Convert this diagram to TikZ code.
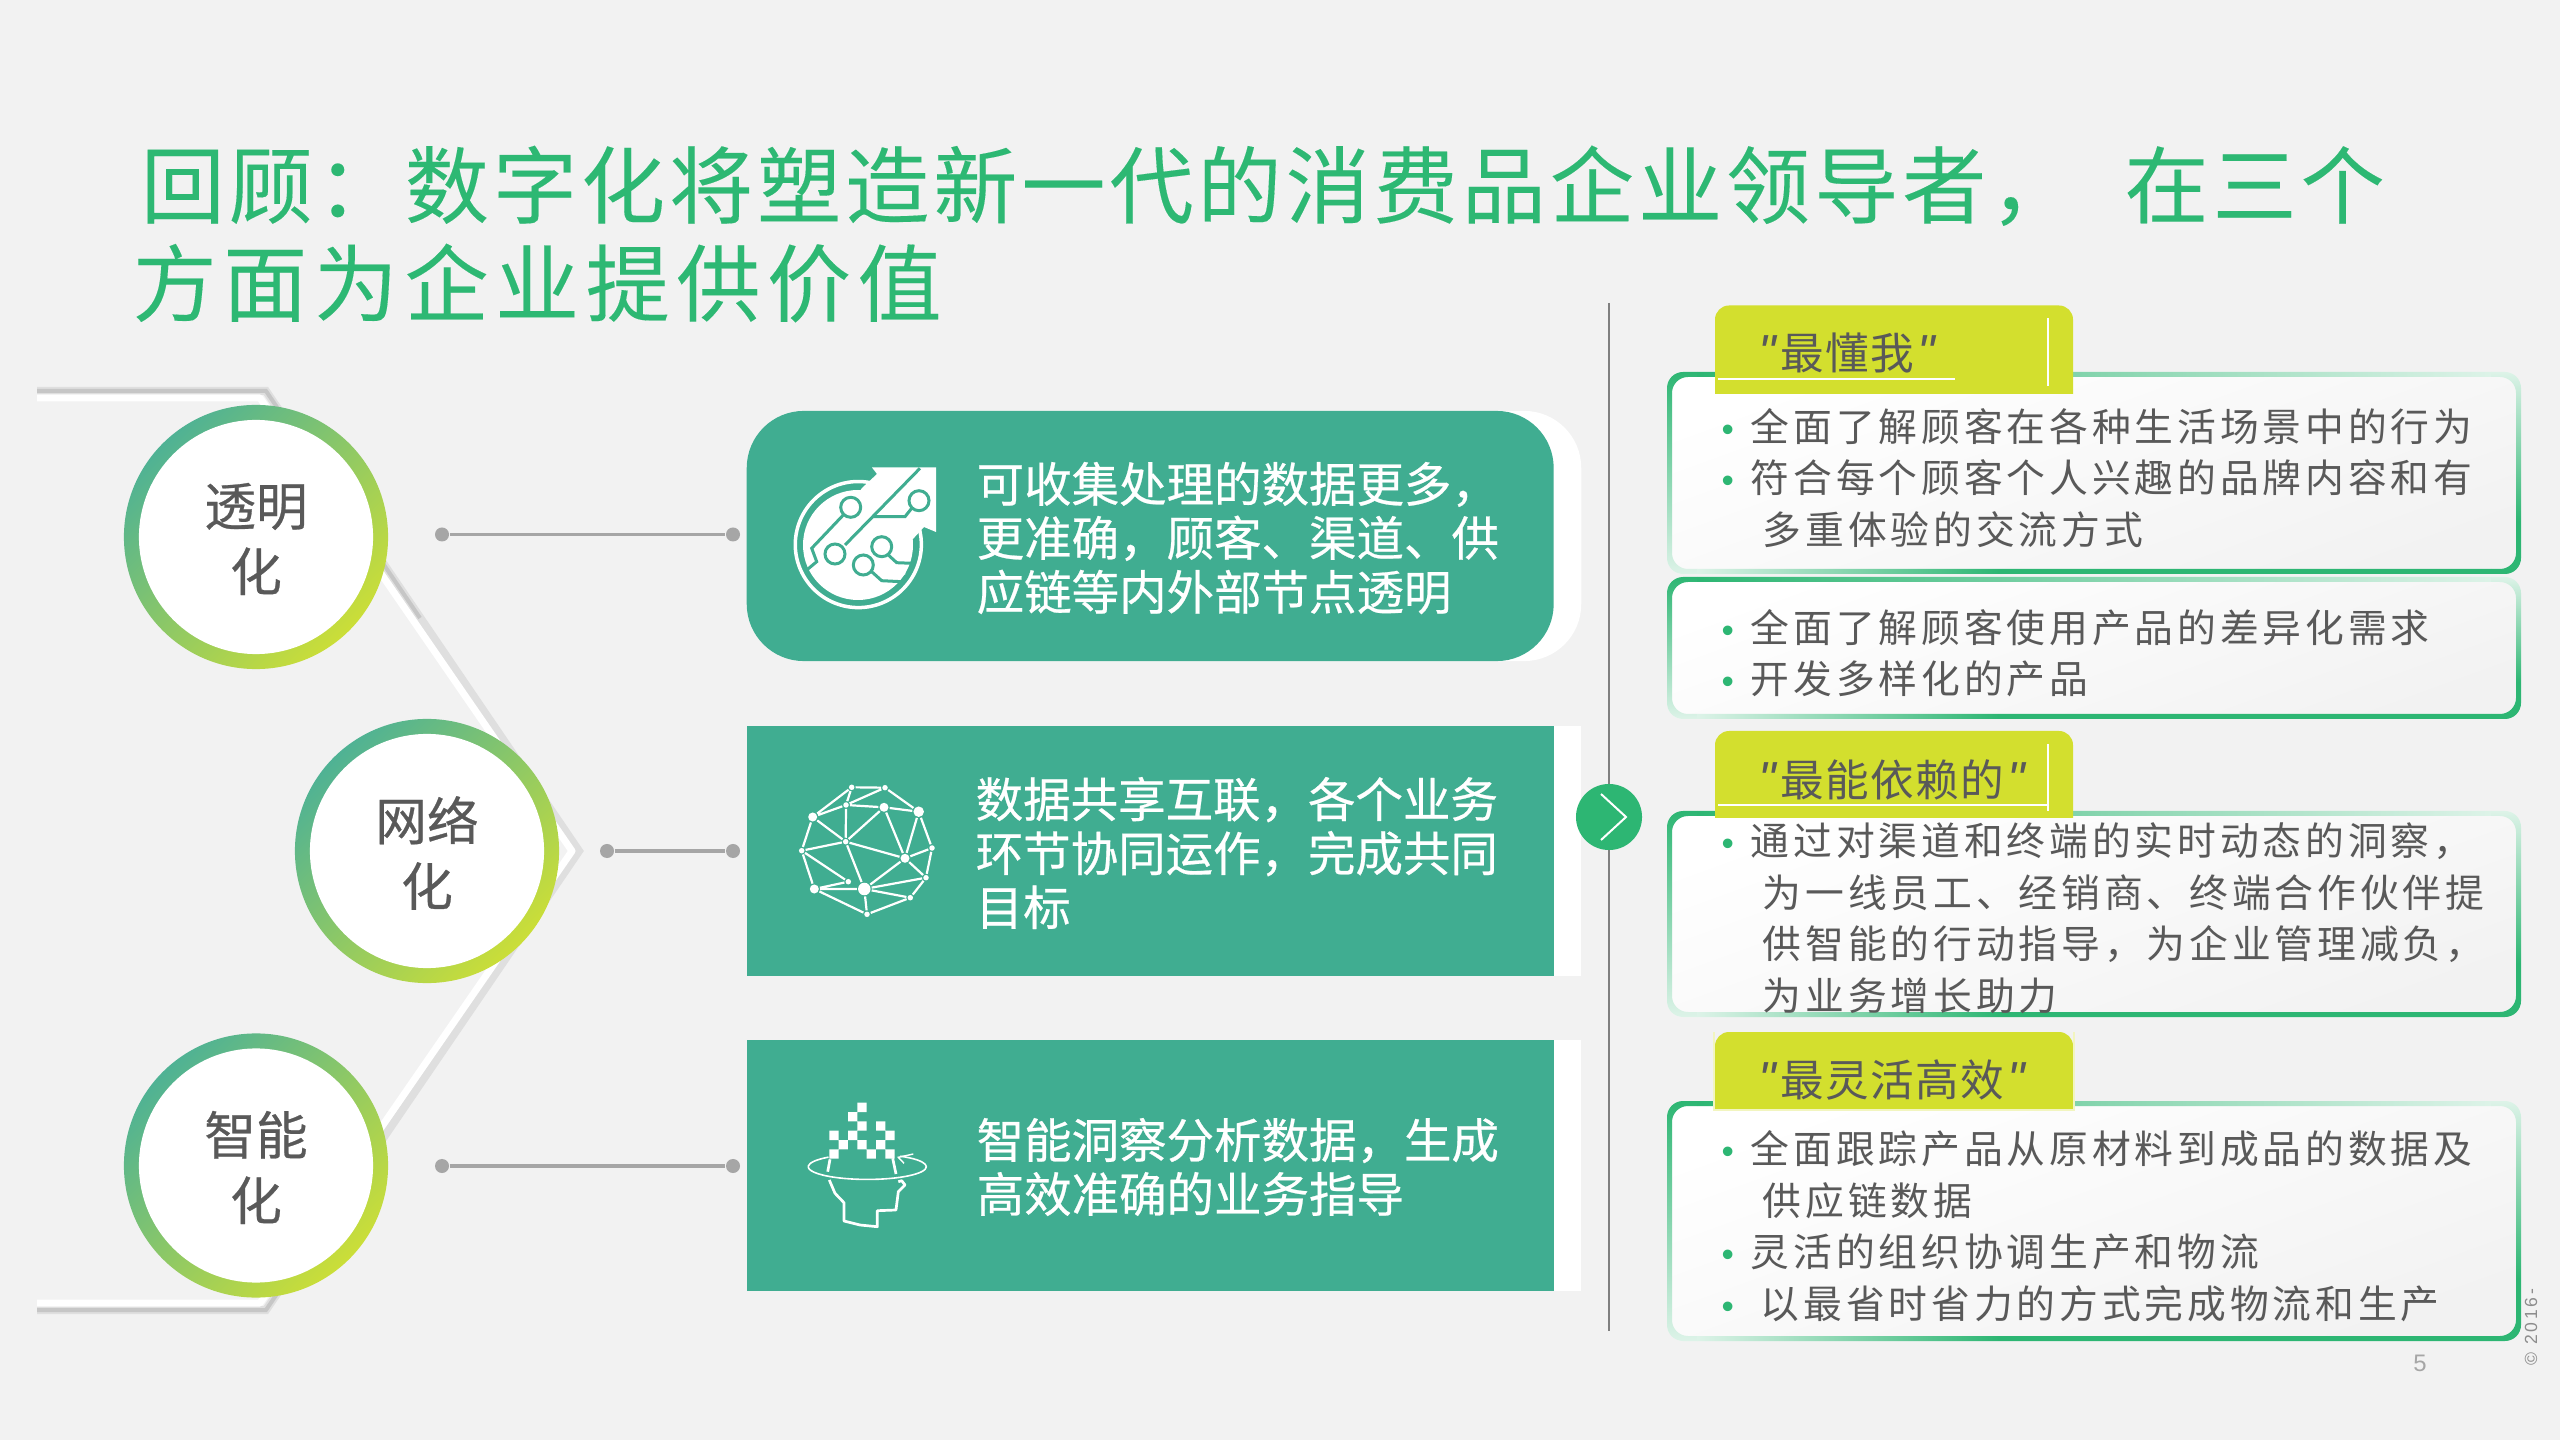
\documentclass[tikz,border=0pt]{standalone}
\usepackage{fontspec}
\setmainfont{Noto Sans CJK SC}
\newfontfamily\widecjk[LetterSpace=10]{Noto Sans CJK SC}
\newfontfamily\titleone[LetterSpace=4.8,FakeBold=0.15]{Noto Sans CJK SC}
\newfontfamily\titletwo[LetterSpace=7.8,FakeBold=0.15]{Noto Sans CJK SC}
\newfontfamily\tagcjk[LetterSpace=3]{Noto Sans CJK SC}
\newfontfamily\heavycjk[FakeBold=0.5]{Noto Sans CJK SC}
\newfontfamily\latinface{Liberation Sans}
\newfontfamily\smallprint[LetterSpace=16]{Liberation Sans}
\definecolor{pagebg}{HTML}{F2F2F2}
\definecolor{titlegreen}{HTML}{2DB873}
\definecolor{bandgreen}{HTML}{40AD91}
\definecolor{edgegreen}{HTML}{2DB673}
\definecolor{edgepale}{HTML}{DDF3E8}
\definecolor{limetag}{HTML}{D3DF2E}
\definecolor{ringteal}{HTML}{4FB294}
\definecolor{ringlime}{HTML}{CBDE38}
\definecolor{inkgray}{HTML}{595959}
\definecolor{linkgray}{HTML}{A6A6A6}
\pgfdeclarehorizontalshading{lowerfade}{100bp}{
    color(0bp)=(edgepale); color(25bp)=(edgepale); color(44bp)=(edgegreen); color(100bp)=(edgegreen)}
\pgfdeclareverticalshading{sidefade}{100bp}{
    color(0bp)=(edgegreen); color(38bp)=(edgegreen); color(75bp)=(edgepale); color(100bp)=(edgepale)}
\newcommand{\dotmark}{\makebox[0.27cm][l]{\hspace*{-0.02cm}\textcolor{edgegreen}{\latinface\fontsize{10pt}{0pt}\selectfont •}}}
\newcommand{\quotemark}{{\latinface\itshape\fontsize{14pt}{0pt}\selectfont "}}
\newcommand{\softbox}[4]{
    \shade[top color=white, bottom color=pagebg, shading angle=20, rounded corners=.16cm] (#1,#2) rectangle (#3,#4);
    \begin{scope}[even odd rule]
    \clip[rounded corners=.16cm] (#1,#2) rectangle (#3,#4) (#1+5,#2+5) rectangle (#3-5,#4-5);
    \shade[top color=edgegreen, bottom color=edgepale] (#1,#2) rectangle (#1+30,#4);
    \shade[shading=sidefade] (#3-30,#2) rectangle (#3,#4);
    \shade[left color=edgegreen, right color=edgepale] (#1+30,#2) rectangle (#3-30,#2+30);
    \shade[shading=lowerfade] (#1+30,#4-30) rectangle (#3-30,#4);
    \end{scope}
}
\begin{document}
\begin{tikzpicture}[
    x=0.01cm, y=-0.01cm,
    ringdisc/.style={circle, minimum size=2.64cm, inner sep=0pt, top color=ringteal, bottom color=ringlime, shading angle=45},
    ringcore/.style={circle, minimum size=2.34cm, inner sep=0pt, fill=white},
    ringtext/.style={inner sep=0pt, text=inkgray, align=center, yshift=-0.02cm,
                     font=\heavycjk\fontsize{14.7pt}{18.6pt}\selectfont},
    bandback/.style={rectangle, fill=white, minimum width=8.34cm, minimum height=2.5cm, inner sep=0pt},
    bandbox/.style={rectangle, fill=bandgreen, minimum width=8.065cm, minimum height=2.5cm, inner sep=0pt},
    bandtext/.style={anchor=west, inner sep=0pt, text=white, align=left,
                     font=\heavycjk\fontsize{13.5pt}{15.36pt}\selectfont},
    listtext/.style={anchor=west, inner sep=0pt, text=inkgray, align=left,
                     font=\widecjk\fontsize{11.03pt}{14.65pt}\selectfont},
    tagtext/.style={anchor=west, inner sep=0pt, text=inkgray, font=\tagcjk\fontsize{12.4pt}{14pt}\selectfont},
    tagfill/.style={fill=limetag},
    tagrule/.style={white, line width=0.02cm},
    linkdot/.style={circle, fill=linkgray, minimum size=0.14cm, inner sep=0pt},
    link/.style={linkgray, line width=0.035cm},
    netbig/.style={circle, fill=white, minimum size=0.105cm, inner sep=0pt, outer sep=0.012cm},
    netmid/.style={circle, fill=white, minimum size=0.09cm, inner sep=0pt, outer sep=0.012cm},
    netsmall/.style={circle, fill=white, minimum size=0.055cm, inner sep=0pt, outer sep=0.012cm},
    netline/.style={white, line width=0.022cm},
    chip/.style={circle, fill=white, draw=bandgreen, line width=0.03cm, minimum size=0.2cm, inner sep=0pt},
    trace/.style={bandgreen, line width=0.03cm},
    headline/.style={white, line width=0.027cm, line join=round}
]
\fill[pagebg] (0,0) rectangle (2560,1440);

% title
\node[anchor=west, inner sep=0pt, text=titlegreen, align=left, font=\fontsize{23.9pt}{27.9pt}\selectfont] (title) at (132,234)
    {\hspace*{0.08cm}{\titleone 回顾：数字化将塑造新一代的消费品企业领导者，\hspace{0.50cm}在三个}\\{\titletwo 方面为企业提供价值}};

% backing chevron
\draw[gray!25, line width=0.08cm, line join=miter] (37,391) -- (266,391) -- (579,851) -- (266,1310) -- (37,1310);
\draw[gray!45, line width=0.04cm] (37,391) -- (266,391) -- (420,618);
\draw[gray!45, line width=0.04cm] (37,1310) -- (266,1310) -- (300,1260);
\draw[white, line width=0.07cm, line join=round] (37,398) -- (260,398) -- (572,851) -- (260,1303) -- (37,1303);

% rings
\node[ringdisc] (disc1) at (256,537) {};
\node[ringdisc] (disc2) at (427,851) {};
\node[ringdisc] (disc3) at (256,1165.5) {};
\node[ringcore] (ring1) at (disc1) {};
\node[ringcore] (ring2) at (disc2) {};
\node[ringcore] (ring3) at (disc3) {};
\node[ringtext] (word1) at (ring1) {透明\\化};
\node[ringtext] (word2) at (ring2) {网络\\化};
\node[ringtext] (word3) at (ring3) {智能\\化};

% links
\node[linkdot] (link1a) at (442,534.5) {};
\node[linkdot] (link1b) at (733,534.5) {};
\node[linkdot] (link2a) at (607,851) {};
\node[linkdot] (link2b) at (733,851) {};
\node[linkdot] (link3a) at (442,1166) {};
\node[linkdot] (link3b) at (733,1166) {};
\draw[link] (link1a) -- (link1b);
\draw[link] (link2a) -- (link2b);
\draw[link] (link3a) -- (link3b);

% bands
\node[bandback, rounded corners=.57cm] (back1) at (1164,536) {};
\node[bandback] (back2) at (1164,851) {};
\node[bandback] (back3) at (1164,1165.5) {};
\node[bandbox, rounded corners=.57cm] (band1) at (1150.2,536) {};
\node[bandbox] (band2) at (1150.2,851) {};
\node[bandbox] (band3) at (1150.2,1165.5) {};
\node[bandtext] (text1) at (976,538) {可收集处理的数据更多，\\更准确，顾客、渠道、供\\应链等内外部节点透明};
\node[bandtext] (text2) at (975,853) {数据共享互联，各个业务\\环节协同运作，完成共同\\目标};
\node[bandtext] (text3) at (976,1167) {智能洞察分析数据，生成\\高效准确的业务指导};

% icon: arrow and circuit
\draw[white, line width=0.035cm] (866,482) arc[start angle=83, end angle=-350, radius=0.63cm];
\fill[white] (858,545) circle (55);
\fill[white] (872,467.5) -- (936,467.5) -- (936,532) -- (924,527) -- (912,540) -- (905,575) -- (840,520) -- (862,488) -- (877,474) -- cycle;
\draw[trace] (920,468.3) -- (845,545);
\draw[trace] (911.7,508.3) -- (905,516.7) -- (873.3,516.7);
\draw[trace] (843.3,515) -- (811.7,548.3) -- (816.7,561.7) -- (806.7,570);
\draw[trace] (888.3,555) -- (896.7,562.7) -- (911.7,563.3);
\draw[trace] (871.7,571.7) -- (881.7,580.7) -- (901.7,581.7);
\node[chip] (chip1) at (850.7,507.3) {};
\node[chip] (chip2) at (919,500.7) {};
\node[chip] (chip3) at (835,554) {};
\node[chip] (chip4) at (881.7,546.7) {};
\node[chip] (chip5) at (863.3,565) {};

% icon: network ball
\node[netsmall] (neta) at (851.7,787.3) {};
\node[netsmall] (netb) at (885,787.7) {};
\node[netsmall] (netc) at (846,805) {};
\node[netmid] (netd) at (884,807.3) {};
\node[netbig] (nete) at (918.7,811.7) {};
\node[netmid] (netf) at (812.7,817) {};
\node[netsmall] (netg) at (845.7,841.7) {};
\node[netsmall] (neth) at (801.7,850.7) {};
\node[netsmall] (neti) at (932,848) {};
\node[netmid] (netj) at (905,858.3) {};
\node[netsmall] (netk) at (926,877.7) {};
\node[netsmall] (netl) at (848.3,881.7) {};
\node[netmid] (netm) at (814.3,889) {};
\node[netbig, minimum size=0.125cm] (netn) at (864.3,889) {};
\node[netsmall] (neto) at (910.3,897.7) {};
\node[netsmall] (netp) at (867,914.3) {};
\draw[netline] (neta) -- (netb) (neta) -- (netc) (neta) -- (netf) (netb) -- (netc) (netb) -- (nete)
    (netc) -- (netf) (netc) -- (netd) (netc) -- (netg) (netd) -- (nete) (netd) -- (netg) (netd) -- (netj)
    (nete) -- (netj) (nete) -- (neti) (netf) -- (netg) (netf) -- (neth) (netg) -- (neth) (netg) -- (netj)
    (netg) -- (netn) (neth) -- (netl) (neth) -- (netm) (neti) -- (netj) (neti) -- (netk) (netj) -- (netk)
    (netj) -- (netn) (netk) -- (netn) (netk) -- (neto) (netl) -- (netm) (netm) -- (netn) (netm) -- (netp)
    (netn) -- (neto) (netn) -- (netp) (neto) -- (netp);

% icon: head
\fill[white] (857.3,1102.7) rectangle +(9.33,9.33) (848,1112) rectangle +(9.33,9.33) (857.3,1121.4) rectangle +(9.33,9.33)
    (876,1121.4) rectangle +(9.33,9.33) (829.3,1130.7) rectangle +(9.33,9.33) (848,1130.7) rectangle +(9.33,9.33)
    (885.3,1130.7) rectangle +(9.33,9.33) (838.6,1140) rectangle +(9.33,9.33) (857.3,1140) rectangle +(9.33,9.33)
    (876,1140) rectangle +(9.33,9.33) (829.3,1149.4) rectangle +(9.33,9.33) (866.6,1149.4) rectangle +(9.33,9.33)
    (885.3,1149.4) rectangle +(9.33,9.33);
\draw[white, line width=0.016cm] (900.3,1156.2) arc[start angle=56, end angle=-229, x radius=0.59cm, y radius=0.127cm];
\draw[white, line width=0.014cm] (913.3,1154) -- (898.3,1157.3) -- (904,1163.3);
\draw[headline] (830,1159.3) -- (827.7,1171.7);
\draw[headline] (892.7,1158.3) -- (896,1174);
\draw[headline] (829.3,1180) -- (835,1193.3) -- (844,1202.7) -- (844,1221) -- (860,1225) -- (877.3,1226.7)
    -- (877.3,1210.7) -- (896,1210) -- (898.3,1191.7) -- (905,1185) -- (901.7,1180.7) -- (898.3,1181.7);

% divider
\coordinate (ruletop) at (1609,303);
\coordinate (rulebot) at (1609,1331);
\draw[gray, line width=0.02cm] (ruletop) -- (rulebot);
\node[circle, fill=edgegreen, minimum size=0.66cm, inner sep=0pt] (nextdot) at (1609,817) {};
\draw[white, line width=0.02cm] (1601,794) -- (1626,817) -- (1601,840);

% list boxes
\softbox{1667}{372}{2521}{574}
\softbox{1667}{577}{2521}{719}
\softbox{1667}{811}{2521}{1017}
\softbox{1667}{1101}{2521}{1341}

% tags
\fill[tagfill, rounded corners=.14cm] (1715,394) -- (1715,305.5) -- (2073,305.5) [sharp corners] -- (2073,394) -- cycle;
\fill[tagfill, rounded corners=.14cm] (1715,818) -- (1715,731) -- (2073,731) [sharp corners] -- (2073,818) -- cycle;
\fill[tagfill, rounded corners=.14cm] (1715,1109) -- (1715,1032) -- (2073,1032) [sharp corners] -- (2073,1109) -- cycle;
\draw[tagrule] (1718,379) -- (1955,379) (2048,318) -- (2048,386);
\draw[tagrule] (1718,805) -- (2048,805) (2048,744) -- (2048,811);
\draw[white!70!limetag, line width=0.02cm] (1714,1032) -- (1714,1110) -- (2074,1110) -- (2074,1032);
\node[tagtext] (tag1) at (1758,353) {\makebox[0.22cm][l]{\quotemark}最懂我\hspace{0.03cm}\quotemark};
\node[tagtext] (tag2) at (1758,779.6) {\makebox[0.22cm][l]{\quotemark}最能依赖的\hspace{0.03cm}\quotemark};
\node[tagtext] (tag3) at (1758,1080) {\makebox[0.22cm][l]{\quotemark}最灵活高效\hspace{0.03cm}\quotemark};

% list texts
\node[listtext] (list1) at (1723,478) {\dotmark 全面了解顾客在各种生活场景中的行为\\\dotmark 符合每个顾客个人兴趣的品牌内容和有\\\hspace*{0.39cm}多重体验的交流方式};
\node[listtext] (list2) at (1723,653) {\dotmark 全面了解顾客使用产品的差异化需求\\\dotmark 开发多样化的产品};
\node[listtext] (list3) at (1723,918) {\dotmark 通过对渠道和终端的实时动态的洞察，\\\hspace*{0.39cm}为一线员工、经销商、终端合作伙伴提\\\hspace*{0.39cm}供智能的行动指导，为企业管理减负，\\\hspace*{0.39cm}为业务增长助力};
\node[listtext] (list4) at (1723,1226) {\dotmark 全面跟踪产品从原材料到成品的数据及\\\hspace*{0.39cm}供应链数据\\\dotmark 灵活的组织协调生产和物流\\\dotmark\hspace*{0.1cm}以最省时省力的方式完成物流和生产};

% page furniture
\node[text=linkgray, inner sep=0pt, font=\latinface\fontsize{6.8pt}{8pt}\selectfont] (pageno) at (2420,1363) {5};
\node[text=linkgray!85!black, inner sep=0pt, rotate=90, font=\smallprint\fontsize{5pt}{6pt}\selectfont] (copyline) at (2531,1327) {© 2016-};
\end{tikzpicture}
\end{document}
